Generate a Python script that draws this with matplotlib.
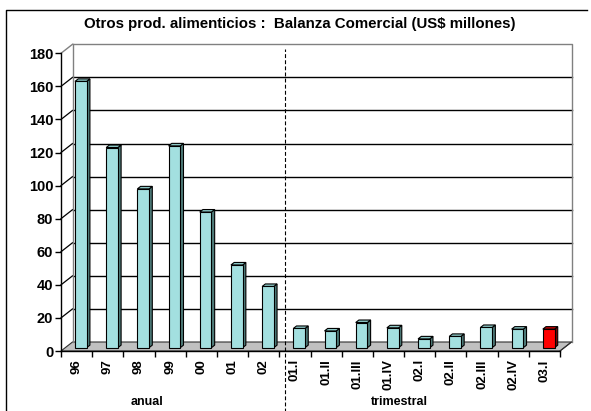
import matplotlib
matplotlib.use('Agg')
import matplotlib.pyplot as plt
from matplotlib.patches import Polygon
from matplotlib.lines import Line2D
import numpy as np

# Data (US$ millones)
labels_anual = ["96", "97", "98", "99", "00", "01", "02"]
values_anual = [161, 121, 96, 122, 82, 50, 37]
labels_trim = ["01.I", "01.II", "01.III", "01.IV", "02.I", "02.II", "02.III", "02.IV", "03.I"]
values_trim = [11.6, 10.1, 15.2, 12.0, 5.3, 6.8, 12.2, 11.2, 11.2]
y_ticks = [0, 20, 40, 60, 80, 100, 120, 140, 160, 180]

categories = labels_anual + labels_trim
values = values_anual + values_trim
n = len(categories)

plt.rcParams['font.family'] = ['Liberation Sans', 'DejaVu Sans']
plt.rcParams['font.weight'] = 'bold'

# Colours
face_col = "#A3E0E0"     # light turquoise
side_col = "#4F7C7A"
top_col = "#8CC8C6"
red_face = "#FF0000"
red_side = "#800000"
red_top = "#CC0000"
floor_col = "#C0C0C0"
wall_edge = "#808080"

fig = plt.figure(figsize=(5.91, 4.11), dpi=100)
ax = fig.add_axes([61 / 591, 60 / 411, 499 / 591, 297.7 / 411])
ax.set_xlim(-0.5, n - 0.5)
ax.set_ylim(0, 180)

# pseudo 3D depth in data units
DX = 11.5 / (499 / n)
DY = 9 * 180 / 297.7
f0, f1 = 0.37, 0.65
hw = 0.1875

x0, x1 = -0.5, n - 0.5

# floor
ax.add_patch(Polygon([(x0, 0), (x1, 0), (x1 + DX, DY), (x0 + DX, DY)],
                     closed=True, facecolor=floor_col, edgecolor="#303030",
                     linewidth=0.8, clip_on=False, zorder=1))

# back wall + side wall gridlines
for t in y_ticks[1:-1]:
    ax.plot([x0 + DX, x1 + DX], [t + DY, t + DY], color="black", lw=1.0,
            clip_on=False, zorder=1)
    ax.plot([x0, x0 + DX], [t, t + DY], color="black", lw=0.9,
            clip_on=False, zorder=1)
top = y_ticks[-1]
ax.plot([x0 + DX, x1 + DX, x1 + DX], [top + DY, top + DY, DY], color=wall_edge,
        lw=1.0, clip_on=False, zorder=1)
ax.plot([x0 + DX, x0 + DX], [DY, top + DY], color=wall_edge, lw=1.0,
        clip_on=False, zorder=1)
ax.plot([x0, x0 + DX], [top, top + DY], color=wall_edge, lw=1.0,
        clip_on=False, zorder=1)
ax.plot([x1, x1 + DX], [0, DY], color="#303030", lw=0.8, clip_on=False, zorder=2)

# 3D bars
for i, v in enumerate(values):
    if i == n - 1:
        fc, sc, tc = red_face, red_side, red_top
    else:
        fc, sc, tc = face_col, side_col, top_col
    lx = i - hw + f0 * DX
    rx = i + hw + f0 * DX
    bx = f1 * DX - f0 * DX
    by = f1 * DY - f0 * DY
    yb = f0 * DY
    front = [(lx, yb), (rx, yb), (rx, yb + v), (lx, yb + v)]
    side = [(rx, yb), (rx + bx, yb + by), (rx + bx, yb + v + by), (rx, yb + v)]
    topf = [(lx, yb + v), (rx, yb + v), (rx + bx, yb + v + by), (lx + bx, yb + v + by)]
    for poly, c in [(side, sc), (topf, tc), (front, fc)]:
        ax.add_patch(Polygon(poly, closed=True, facecolor=c, edgecolor="black",
                             linewidth=0.8, clip_on=False, zorder=3))

# axes styling
for s in ['top', 'right']:
    ax.spines[s].set_visible(False)
ax.spines['left'].set_linewidth(1.0)
ax.spines['bottom'].set_linewidth(1.0)
ax.spines['left'].set_zorder(4)
ax.spines['bottom'].set_zorder(4)
ax.patch.set_visible(False)

ax.set_yticks(y_ticks)
ax.set_yticklabels([str(t) for t in y_ticks], fontsize=10.5, fontweight='bold')
ax.tick_params(axis='y', length=4, width=1, pad=1.5)

ax.set_xticks(np.arange(n))
ax.set_xticklabels(categories, rotation=90, fontsize=9.5, fontweight='bold')
ax.set_xticks(np.arange(n + 1) - 0.5, minor=True)
ax.tick_params(axis='x', which='major', length=0, pad=6)
ax.tick_params(axis='x', which='minor', length=4, width=1)

# separator between annual and quarterly data
sep_x = (len(labels_anual) - 0.5) + DX / 2
ax.plot([sep_x, sep_x], [-45, top + DY / 2], color="black", lw=0.8,
        linestyle=(0, (3.5, 2)), clip_on=False, zorder=5)

# group labels
ax.text(0.172, -0.172, "anual", transform=ax.transAxes, ha='center', va='center',
        fontsize=9, fontweight='bold')
ax.text(0.679, -0.172, "trimestral", transform=ax.transAxes, ha='center', va='center',
        fontsize=9, fontweight='bold')

# title
fig.text(0.508, 1 - 24 / 411, "Otros prod. alimenticios :  Balanza Comercial (US$ millones)",
         ha='center', va='center', fontsize=10.8, fontweight='bold')

# chart area border (left and top edges visible)
fig.add_artist(Line2D([5.5 / 591, 5.5 / 591, 587 / 591], [0, 1 - 10.5 / 411, 1 - 10.5 / 411],
                      color="black", lw=1.0, transform=fig.transFigure))

fig.savefig("out.png", dpi=100)
plt.close(fig)
